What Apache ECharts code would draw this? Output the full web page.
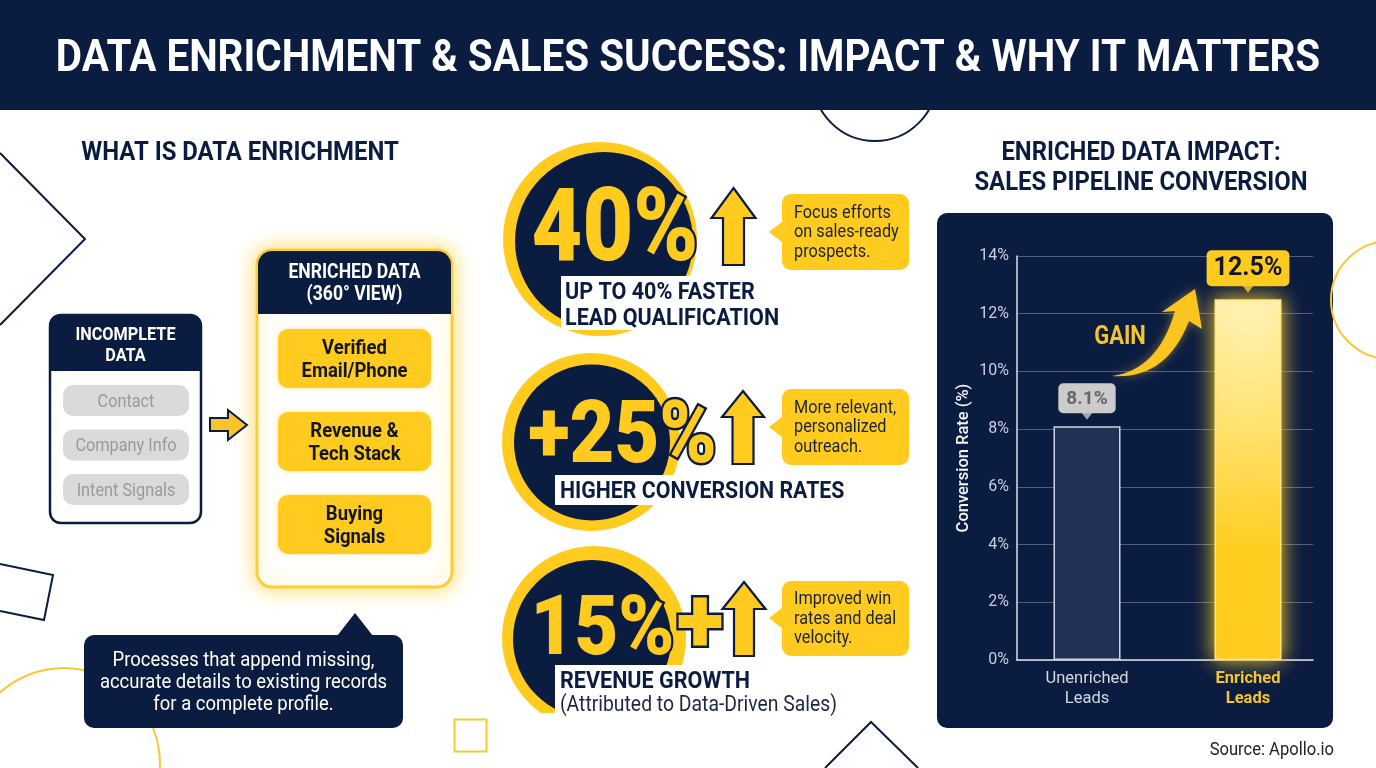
<!DOCTYPE html>
<html>
<head>
<meta charset="utf-8">
<title>Data Enrichment</title>
<style>
html,body{margin:0;padding:0;background:#fff;}
#chart{width:1376px;height:768px;}
</style>
<script src="https://cdn.jsdelivr.net/npm/echarts@6/dist/echarts.min.js"></script>
</head>
<body>
<div id="chart"></div>
<script>
//chart data
var categories = ['Unenriched\nLeads', 'Enriched\nLeads'];
var conversionRates = [8.1, 12.5];
var yMax = 14;
var yStep = 2;

//texts
var titleText = 'DATA ENRICHMENT & SALES SUCCESS: IMPACT & WHY IT MATTERS';
var leftTitle = 'WHAT IS DATA ENRICHMENT';
var rightTitle = 'ENRICHED DATA IMPACT:\nSALES PIPELINE CONVERSION';
var incompleteItems = ['Contact', 'Company Info', 'Intent Signals'];
var enrichedItems = ['Verified\nEmail/Phone', 'Revenue &\nTech Stack', 'Buying\nSignals'];
var calloutLines = ['Processes that append missing,', 'accurate details to existing records', 'for a complete profile.'];
var statValues = ['40%', '+25%', '15%'];
var statNotes = [
    ['Focus efforts', 'on sales-ready', 'prospects.'],
    ['More relevant,', 'personalized', 'outreach.'],
    ['Improved win', 'rates and deal', 'velocity.']
];

var NAVY = '#0b1c41';
var YELLOW = '#ffcb1f';
var LINEY = '#f5c93a';
var FONT = 'Roboto, "Noto Sans", sans-serif';

//curved arrow next to GAIN
echarts.graphic.registerShape('gainArrow', echarts.graphic.extendShape({
    buildPath: function (ctx) {
        ctx.moveTo(1112, 376);
        ctx.quadraticCurveTo(1158, 370, 1175, 311);
        ctx.lineTo(1162, 312);
        ctx.lineTo(1195, 289);
        ctx.lineTo(1202, 329);
        ctx.lineTo(1189, 321);
        ctx.quadraticCurveTo(1166, 380, 1112, 376);
        ctx.closePath();
    }
}));

var els = [];

//text helper, sx squeezes roboto to the condensed look
function txt(x, y, text, size, color, o) {
    o = o || {};
    els.push({
        type: 'text', x: x, y: y + size * 0.09, scaleX: o.sx || 0.88, z: o.z || 5, silent: true,
        style: {
            text: text, x: 0, y: 0,
            align: o.align || 'center', verticalAlign: 'middle',
            fontFamily: FONT, fontSize: size, fontWeight: o.weight || 'normal',
            lineHeight: o.lh || size * 1.2,
            fill: color, stroke: o.stroke, lineWidth: o.lw || 0, strokeFirst: !!o.stroke
        }
    });
}
function rect(x, y, w, h, r, fill, o) {
    o = o || {};
    els.push({
        type: 'rect', z: o.z === undefined ? 2 : o.z, silent: true,
        shape: {x: x, y: y, width: w, height: h, r: r},
        style: {fill: fill, stroke: o.stroke, lineWidth: o.lw || 0, shadowBlur: o.blur || 0, shadowColor: o.shadow}
    });
}
function poly(points, fill, stroke, lw, z, closed) {
    els.push({
        type: closed === false ? 'polyline' : 'polygon', z: z === undefined ? 3 : z, silent: true,
        shape: {points: points},
        style: {fill: fill, stroke: stroke, lineWidth: lw || 0, lineJoin: 'miter'}
    });
}
function circle(cx, cy, r, fill, stroke, lw, z) {
    els.push({
        type: 'circle', z: z === undefined ? 2 : z, silent: true,
        shape: {cx: cx, cy: cy, r: r},
        style: {fill: fill, stroke: stroke, lineWidth: lw || 0}
    });
}
function upArrow(cx, tip, wingY, bottom, halfHead, halfShaft) {
    poly([[cx, tip], [cx + halfHead, wingY], [cx + halfShaft, wingY], [cx + halfShaft, bottom],
        [cx - halfShaft, bottom], [cx - halfShaft, wingY], [cx - halfHead, wingY]], YELLOW, NAVY, 2.2, 4);
}
function noteBubble(top, bottom, tipY, lines) {
    rect(782, top, 127, bottom - top, 9, YELLOW);
    poly([[769, tipY], [783, tipY - 11], [783, tipY + 11]], YELLOW);
    var mid = (top + bottom) / 2 - 1;
    lines.forEach(function (l, i) {
        txt(794, mid + (i - 1) * 19.5, l, 18.5, '#1c2233', {align: 'left'});
    });
}
function bigValue(x, y, text, size, sx) {
    txt(x, y, text, size, YELLOW, {weight: 900, sx: sx, stroke: NAVY, lw: 5});
}

//background shapes
circle(875, 79, 62, 'none', NAVY, 2, 0);
poly([[0, 153], [85, 239], [0, 325]], 'none', NAVY, 2, 0, false);
poly([[0, 564], [53, 575], [44, 620], [0, 611]], 'none', NAVY, 2, 0, false);
circle(64, 764, 96, 'none', LINEY, 2, 0);
rect(454.5, 719.5, 32, 32, 0, 'none', {stroke: LINEY, lw: 2, z: 0});
poly([[825, 768], [871, 722], [918, 768]], 'none', NAVY, 2, 0, false);
circle(1390, 300, 59, 'none', LINEY, 2, 0);

//header
rect(0, 0, 1376, 110, 0, NAVY, {z: 1});
txt(688, 56, titleText, 45, '#fff', {weight: 'bold', sx: 0.897});

//left column
txt(240, 151, leftTitle, 26, NAVY, {weight: 'bold', sx: 0.92});

rect(50, 315, 151, 208, 11, '#fff', {stroke: NAVY, lw: 2.5});
rect(49, 314, 153, 57, [12, 12, 0, 0], NAVY, {z: 3});
txt(125.5, 344, 'INCOMPLETE\nDATA', 18.5, '#fff', {weight: 'bold', lh: 20.5});
incompleteItems.forEach(function (t, i) {
    var py = 385 + i * 44.5;
    rect(63, py, 126, 31, 10, '#dadada');
    txt(126, py + 15.5, t, 18.5, '#9a9a9a');
});

poly([[210, 418], [228, 418], [228, 410], [247, 425], [228, 440], [228, 431], [210, 431]], '#fbc52a', NAVY, 2, 3);

rect(257, 250, 195, 337, 15, '#fff', {stroke: '#f8cf3a', lw: 3, blur: 20, shadow: 'rgba(255,205,40,0.75)'});
rect(258, 251, 193, 63, [14, 14, 0, 0], NAVY, {z: 3});
txt(354.5, 282, 'ENRICHED DATA\n(360° VIEW)', 20, '#fff', {weight: 'bold', lh: 22});
enrichedItems.forEach(function (t, i) {
    var py = 329 + i * 83;
    rect(278, py, 153, 59, 10, YELLOW, {blur: 5, shadow: 'rgba(255,205,40,0.5)'});
    txt(354.5, py + 29.5, t, 21, '#14161f', {weight: 'bold', lh: 22.5});
});

poly([[337, 636], [355, 613], [373, 636]], NAVY);
rect(84, 635, 319, 93, 10, NAVY);
calloutLines.forEach(function (l, i) {
    txt(243.5, 659 + i * 21.7, l, 21, '#fff');
});

//stat 1
circle(600, 239, 97, YELLOW);
circle(604, 241, 89, NAVY, null, 0, 3);
rect(561, 276, 140, 54, 0, '#fff', {z: 3});
bigValue(615, 225, statValues[0], 102, 0.86);
txt(565, 291, 'UP TO 40% FASTER', 24.5, NAVY, {weight: 'bold', align: 'left'});
txt(565, 317, 'LEAD QUALIFICATION', 24.5, NAVY, {weight: 'bold', align: 'left'});
upArrow(733.5, 188, 218, 265, 22, 10.5);
noteBubble(194, 270, 232, statNotes[0]);

//stat 2
circle(591, 442, 89, YELLOW);
circle(592, 442.5, 78, NAVY, null, 0, 3);
rect(555, 475, 145, 30, 0, '#fff', {z: 3});
bigValue(622.5, 432, statValues[1], 88, 0.88);
txt(560, 490, 'HIGHER CONVERSION RATES', 24.5, NAVY, {weight: 'bold', align: 'left', sx: 0.87});
upArrow(743, 391, 417, 464, 21, 10.5);
noteBubble(389, 465, 427, statNotes[1]);

//stat 3
circle(594, 638, 92, YELLOW);
circle(592, 639, 79, NAVY, null, 0, 3);
rect(555, 665, 150, 62, 0, '#fff', {z: 3});
rect(500, 713, 205, 25, 0, '#fff', {z: 3});
bigValue(602.5, 625, statValues[2], 84, 0.9);
txt(700, 621, '+', 92, YELLOW, {weight: 900, sx: 0.95, stroke: NAVY, lw: 5});
upArrow(744, 582, 609, 656, 21.5, 10);
noteBubble(581, 656, 618, statNotes[2]);
txt(560, 680, 'REVENUE GROWTH', 24.5, NAVY, {weight: 'bold', align: 'left'});
txt(560, 704, '(Attributed to Data-Driven Sales)', 21.5, '#1c2740', {align: 'left', sx: 0.9});

//right column
txt(1141, 166, rightTitle, 26, NAVY, {weight: 'bold', sx: 0.918, lh: 30});
rect(937, 213, 396, 515, 10, NAVY, {z: -1});
txt(1120, 335, 'GAIN', 25, '#f5c52a', {weight: 'bold', z: 20});
els.push({type: 'gainArrow', z: 20, silent: true,
    style: {fill: '#fbc41f', shadowBlur: 10, shadowColor: 'rgba(255,205,40,0.45)'}});
txt(1334, 749, 'Source: Apollo.io', 18, '#222', {align: 'right', sx: 0.92});

var chart = echarts.init(document.getElementById('chart'), null, {renderer: 'canvas'});

var labelStyles = [
    {fontSize: 19, color: '#666', backgroundColor: '#cbcbcb', padding: [6, 8, 5, 8]},
    {fontSize: 25, color: '#14161f', backgroundColor: YELLOW, padding: [6, 7, 5, 7]}
];
var barStyles = [
    {color: '#223056', borderColor: '#ccd3e2', borderWidth: 1.5},
    {
        color: new echarts.graphic.LinearGradient(0, 0, 0, 1, [
            {offset: 0, color: '#fff3b8'},
            {offset: 0.35, color: '#ffe272'},
            {offset: 0.7, color: '#ffcd1f'},
            {offset: 1, color: '#ffcb1f'}
        ]),
        borderColor: '#ffe57f', borderWidth: 1.5,
        shadowBlur: 20, shadowColor: 'rgba(255,205,40,1)'
    }
];
var pointerColors = ['#cbcbcb', YELLOW];
var labelColors = ['#d3d8e4', '#f5c52a'];

chart.setOption({
    backgroundColor: '#fff',
    animation: false,
    graphic: {elements: els},
    //grid 0 carries the axes and gridlines, grid 1 the bars (wider so the bars sit where they should)
    grid: [
        {left: 1017, top: 256, width: 296, height: 404},
        {left: 1006.5, top: 256, width: 322, height: 404}
    ],
    xAxis: [
        {
            gridIndex: 0, type: 'category', data: [''],
            axisLine: {lineStyle: {color: '#dde1ea', width: 1.5}},
            axisTick: {show: false}, axisLabel: {show: false}
        },
        {
            gridIndex: 1, type: 'category',
            data: categories.map(function (c, i) {
                return {value: c, textStyle: {color: labelColors[i], fontWeight: i ? 'bold' : 'normal'}};
            }),
            axisLine: {show: false}, axisTick: {show: false},
            axisLabel: {fontFamily: FONT, fontSize: 16.5, lineHeight: 20, margin: 9, interval: 0}
        }
    ],
    yAxis: [
        {
            gridIndex: 0, type: 'value', min: 0, max: yMax, interval: yStep,
            name: 'Conversion Rate (%)', nameLocation: 'middle', nameGap: 45,
            nameTextStyle: {color: '#f2f4f8', fontFamily: FONT, fontSize: 16.5, fontWeight: 500},
            axisLine: {show: true, lineStyle: {color: '#dde1ea', width: 1.5}},
            axisTick: {show: false},
            axisLabel: {color: '#c9cfdd', fontFamily: FONT, fontSize: 16, margin: 8, formatter: '{value}%'},
            splitLine: {lineStyle: {color: '#505e7c', width: 1}}
        },
        {gridIndex: 1, type: 'value', min: 0, max: yMax, interval: yStep, show: false, splitLine: {show: false}}
    ],
    series: [
        {
            type: 'bar', xAxisIndex: 1, yAxisIndex: 1, barWidth: 67, z: 4,
            data: conversionRates.map(function (v, i) {
                return {
                    value: v,
                    itemStyle: barStyles[i],
                    label: Object.assign({
                        show: true, position: 'top', distance: 13, formatter: '{c}%',
                        fontFamily: FONT, fontWeight: 'bold', borderRadius: 5
                    }, labelStyles[i])
                };
            })
        },
        {
            //small pointer under each value label
            type: 'scatter', xAxisIndex: 1, yAxisIndex: 1, symbol: 'triangle', symbolRotate: 180,
            symbolSize: [14, 9], symbolOffset: [0, -11], z: 5, silent: true,
            data: conversionRates.map(function (v, i) {
                return {value: [i, v], itemStyle: {color: pointerColors[i]}};
            })
        }
    ]
});
</script>
</body>
</html>
